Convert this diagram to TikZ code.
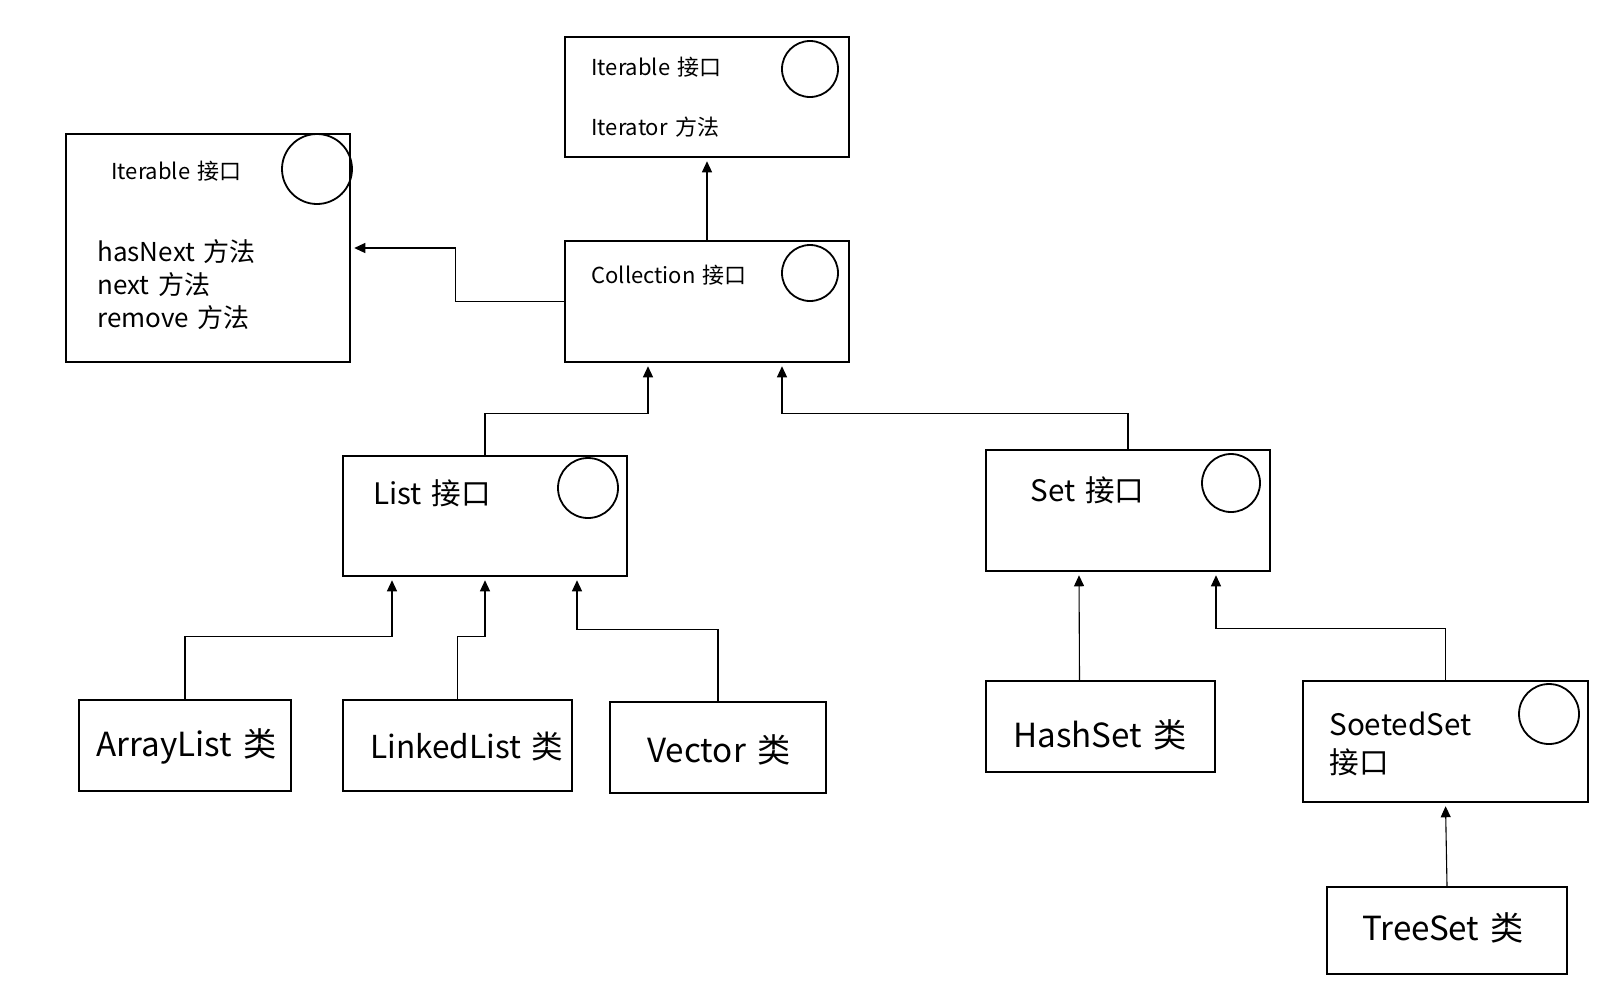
\documentclass[tikz,border=0pt]{standalone}
\usepackage{fontspec}
\setmainfont[WordSpace=1.5]{Noto Sans CJK SC}
\usetikzlibrary{arrows.meta,calc}

\begin{document}
\begin{tikzpicture}[
  x=0.5pt,
  y=-0.5pt,
  line join=miter,
  box/.style={draw=black,line width=1.25pt,rectangle,inner sep=0pt},
  badge/.style={draw=black,line width=0.9pt,circle,inner sep=0pt},
  lbl/.style={anchor=west,inner sep=0pt},
  tsmall/.style={lbl,font=\fontsize{11pt}{13pt}\selectfont},
  tmid/.style={lbl,font=\fontsize{13pt}{16.5pt}\selectfont,align=left},
  tbig/.style={lbl,font=\fontsize{14.8pt}{19pt}\selectfont,align=left},
  tcls/.style={lbl,font=\fontsize{16.6pt}{19pt}\selectfont},
  conn/.style={draw=black,line width=0.55pt,shorten >=1.5pt,-{Triangle[length=5.5pt,width=5pt]}}
]
  \newcommand{\drawbox}[5]{%
    \node[box,minimum width=#4*0.5pt,minimum height=#5*0.5pt] (#1) at (#2,#3) {};
  }
  \newcommand{\drawbadge}[4]{%
    \node[badge,minimum size=#4*1pt] (#1) at (#2,#3) {};
  }

  \useasboundingbox (0,0) rectangle (1611,998);

  % Interfaces at the top.
  \drawbox{iterTop}{707}{97}{284}{120}
  \drawbox{coll}{707}{301.5}{284}{121}
  \drawbox{iterLeft}{208}{248}{284}{228}
  \drawbadge{iterTopC}{810}{69}{28}
  \drawbadge{collC}{810}{273}{28}
  \drawbadge{iterLeftC}{317}{169}{35}
  \node[tsmall] (iterTopT) at (591,67) {Iterable 接口};
  \node[tsmall] (iterTopM) at (591,127) {Iterator 方法};
  \node[tsmall] (collT) at (591,275) {Collection 接口};
  \node[tsmall] (iterLeftT) at (111,171) {Iterable 接口};
  \node[tmid] (iterLeftM) at (97,285) {hasNext 方法\\next 方法\\remove 方法};

  % List and Set interfaces.
  \drawbox{listI}{485}{516}{284}{120}
  \drawbox{setI}{1128}{510.5}{284}{121}
  \drawbadge{listIC}{588}{488}{30}
  \drawbadge{setIC}{1231}{483}{29}
  \node[tbig] (listIT) at (373,493) {List 接口};
  \node[tbig] (setIT) at (1030,490) {Set 接口};

  % Classes and the sorted set.
  \drawbox{arrayL}{185}{745.5}{212}{91}
  \drawbox{linkedL}{457.5}{745.5}{229}{91}
  \drawbox{vec}{718}{747.5}{216}{91}
  \drawbox{hashS}{1100.5}{726.5}{229}{91}
  \drawbox{sortedS}{1445.5}{741.5}{285}{121}
  \drawbox{treeS}{1447}{930.5}{240}{87}
  \drawbadge{sortedSC}{1549}{714}{30}
  \node[tcls] (arrayLT) at (96,746) {ArrayList 类};
  \node[tcls,font=\fontsize{15.8pt}{19pt}\selectfont] (linkedLT) at (370,746) {LinkedList 类};
  \node[tcls] (vecT) at (647,750) {Vector 类};
  \node[tcls] (hashST) at (1013,735) {HashSet 类};
  \node[tbig] (sortedST) at (1329,744) {SoetedSet\\接口};
  \node[tcls] (treeST) at (1362,928) {TreeSet 类};

  % Connectors.
  \draw[conn] (coll.north) -- (iterTop.south);
  \draw[conn] (coll.west) -- ++(-108,0) |- (iterLeft.east);
  \draw[conn] (listI.north) -- ++(0,-41) -| ($(coll.south)+(-59,0)$);
  \draw[conn] (setI.north) -- ++(0,-35) -| ($(coll.south)+(75,0)$);
  \draw[conn] (arrayL.north) -- ++(0,-62) -| ($(listI.south)+(-93,0)$);
  \draw[conn] (linkedL.north) -- ++(0,-62) -| (listI.south);
  \draw[conn] (vec.north) -- ++(0,-71) -| ($(listI.south)+(92,0)$);
  \draw[conn] ($(hashS.north)+(-21,0)$) -- ($(setI.south)+(-49,0)$);
  \draw[conn] (sortedS.north) -- ++(0,-51) -| ($(setI.south)+(88,0)$);
  \draw[conn] (treeS.north) -- (sortedS.south);
\end{tikzpicture}
\end{document}
